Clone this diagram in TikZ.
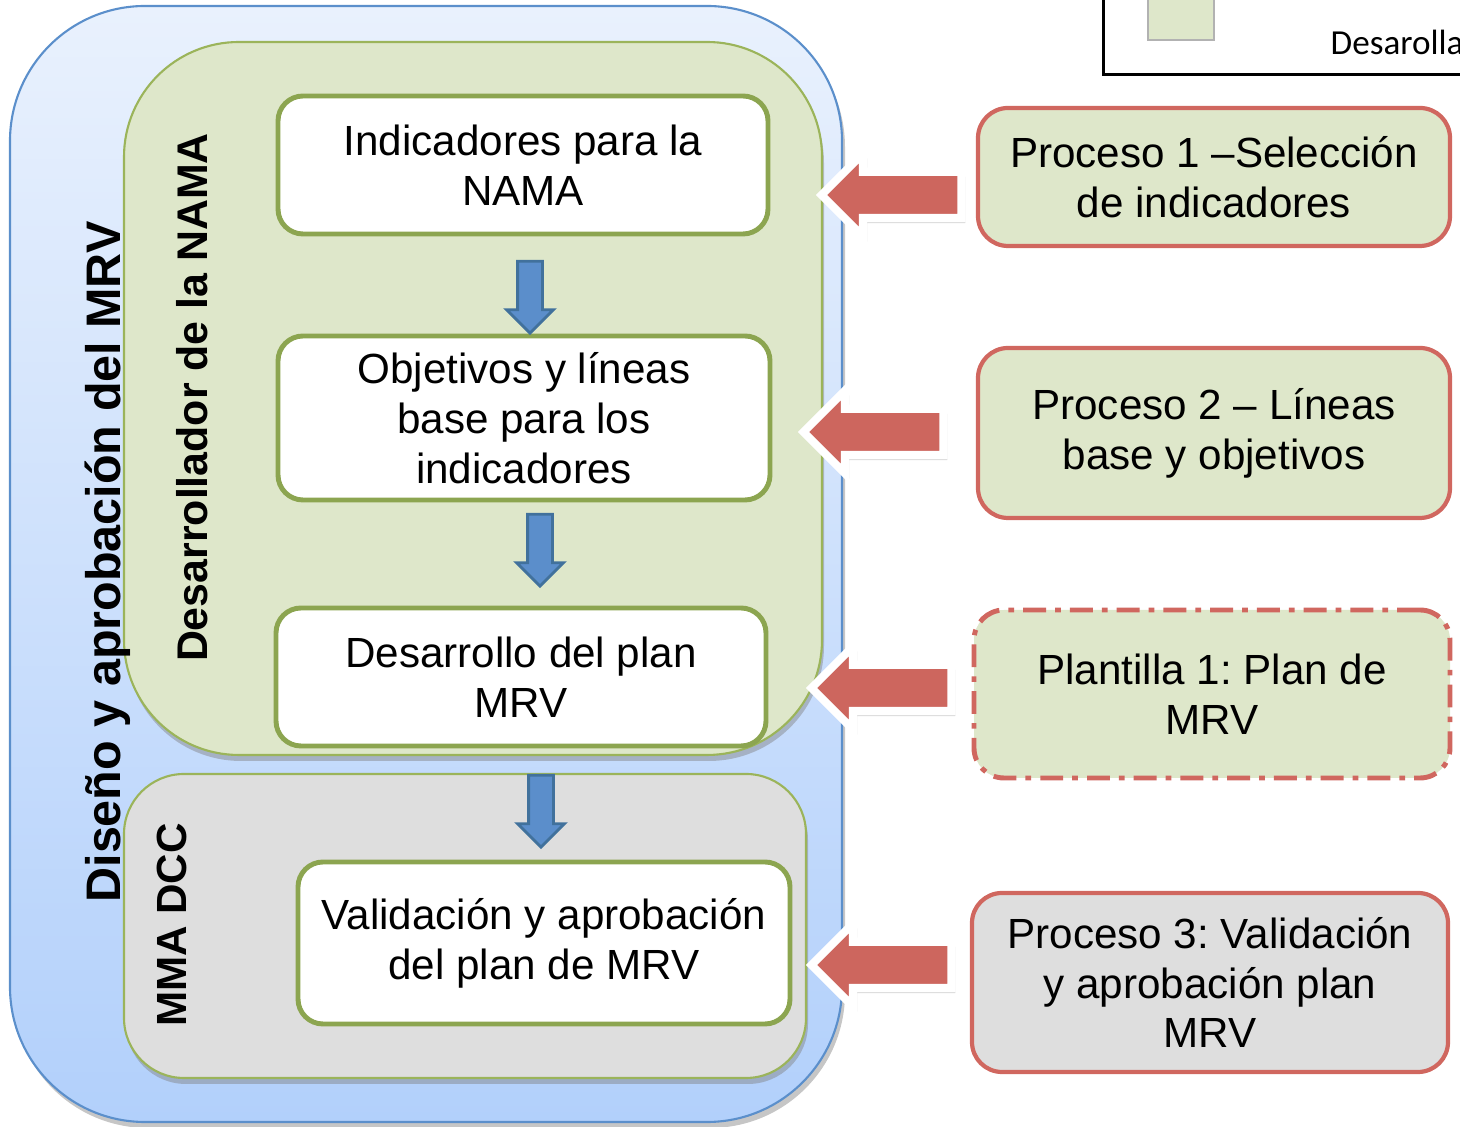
\documentclass[tikz,border=0pt]{standalone}
\usepackage{fontspec}
\setmainfont{Liberation Sans}
\newfontfamily\legendfont{Carlito}
\usetikzlibrary{shapes.arrows,shadows}
\definecolor{bluetop}{HTML}{E9F1FD}
\definecolor{bluebot}{HTML}{B2D0FB}
\definecolor{blueline}{HTML}{5B8FCB}
\definecolor{greenfill}{HTML}{DEE7CA}
\definecolor{greenline}{HTML}{9BB45A}
\definecolor{oliveline}{HTML}{8CA550}
\definecolor{greyfill}{HTML}{DEDEDE}
\definecolor{redline}{HTML}{D0675F}
\definecolor{arrred}{HTML}{CD665E}
\definecolor{arrblue}{HTML}{5B8ECB}
\definecolor{arrblueline}{HTML}{41719C}
\frenchspacing
\begin{document}
\begin{tikzpicture}[
  boxtext/.style={font=\fontsize{12}{14.2}\selectfont, align=center, inner sep=0pt},
  outerbox/.style={draw=blueline, line width=0.6pt, rounded corners=1.35cm, top color=bluetop, bottom color=bluebot, minimum width=8.32cm, minimum height=11.16cm, drop shadow={shadow xshift=0.03cm, shadow yshift=-0.06cm, opacity=0.45}},
  greenbox/.style={draw=greenline, line width=0.6pt, fill=greenfill, rounded corners=1.15cm, drop shadow={shadow xshift=0.02cm, shadow yshift=-0.06cm, opacity=0.45}},
  greybox/.style={draw=greenline, line width=0.6pt, fill=greyfill, rounded corners=0.6cm, drop shadow={shadow xshift=0.02cm, shadow yshift=-0.06cm, opacity=0.45}},
  whitebox/.style={boxtext, draw=oliveline, line width=1.4pt, fill=white, rounded corners=0.25cm, minimum width=4.9cm},
  procbox/.style={boxtext, draw=redline, line width=1.2pt, fill=greenfill, rounded corners=0.3cm, minimum width=4.72cm},
  sidetext/.style={rotate=90, anchor=base, inner sep=0pt},
  bluearrow/.style={single arrow, shape border rotate=270, fill=arrblue, draw=arrblueline, line width=0.8pt, minimum height=0.72cm, minimum width=0.44cm, single arrow head extend=0.11cm, inner sep=0.11cm},
  redarrow/.style={single arrow, shape border rotate=180, fill=arrred, draw=white, line width=2.3pt, minimum height=1.4cm, minimum width=0.75cm, single arrow head extend=0.185cm, inner sep=0.19cm, drop shadow={shadow xshift=0.04cm, shadow yshift=-0.05cm, opacity=0.3}}
]
\useasboundingbox (0,0) rectangle (14.6,-11.27);
\clip (0,0) rectangle (14.6,-11.27);
\node[outerbox] (mrv) at (4.26,-5.64) {};
\node[greenbox, minimum width=6.98cm, minimum height=7.13cm] (nama) at (4.73,-3.985) {};
\node[greybox, minimum width=6.82cm, minimum height=3.04cm] (mma) at (4.65,-9.26) {};
\node[sidetext, font=\fontsize{13.8}{16}\selectfont\bfseries] (tmrv) at (1.20,-5.62) {Diseño y aprobación del MRV};
\node[sidetext, font=\fontsize{12.2}{15}\selectfont\bfseries] (tnama) at (2.07,-3.975) {Desarrollador de la NAMA};
\node[sidetext, font=\fontsize{12}{14}\selectfont\bfseries] (tmma) at (1.87,-9.25) {MMA DCC};
\node[whitebox, minimum height=1.38cm] (ind) at (5.23,-1.65) {Indicadores para la\\NAMA};
\node[whitebox, minimum width=4.92cm, minimum height=1.64cm] (obj) at (5.24,-4.18) {Objetivos y líneas\\base para los\\indicadores};
\node[whitebox, minimum height=1.38cm] (des) at (5.21,-6.77) {Desarrollo del plan\\MRV};
\node[whitebox, minimum width=4.92cm, minimum height=1.62cm] (val) at (5.44,-9.43) {Validación y aprobación\\del plan de MRV};
\node[bluearrow] (b1) at (5.30,-2.91) {};
\node[bluearrow] (b2) at (5.40,-5.44) {};
\node[bluearrow] (b3) at (5.41,-8.05) {};
\node[procbox, minimum height=1.38cm] (p1) at (12.14,-1.77) {Proceso 1 –Selección\\de indicadores};
\node[procbox, minimum height=1.70cm] (p2) at (12.14,-4.33) {Proceso 2 – Líneas\\base y objetivos};
\node[procbox, minimum width=4.76cm, minimum height=1.68cm, line width=1.4pt, dash pattern=on 6.5pt off 2.6pt on 1.6pt off 2.6pt] (pl) at (12.12,-6.94) {Plantilla 1: Plan de\\MRV};
\node[procbox, minimum width=4.76cm, minimum height=1.79cm, fill=greyfill] (p3) at (12.10,-9.825) {Proceso 3: Validación\\y aprobación plan\\MRV};
\node[redarrow] (r1) at (9.03,-1.95) {};
\node[redarrow] (r2) at (8.85,-4.32) {};
\node[redarrow] (r3) at (8.93,-6.88) {};
\node[redarrow] (r4) at (8.93,-9.65) {};
\draw[line width=0.85pt] (11.03,0.2) rectangle (15,-0.75);
\node[draw=black!30, fill=greenfill, minimum width=0.66cm, minimum height=0.5cm, inner sep=0pt] (sw) at (11.81,-0.15) {};
\node[anchor=base west, inner sep=0pt, font=\legendfont\fontsize{10}{12}\selectfont] (leg) at (13.30,-0.55) {Desarolla};
\end{tikzpicture}
\end{document}
